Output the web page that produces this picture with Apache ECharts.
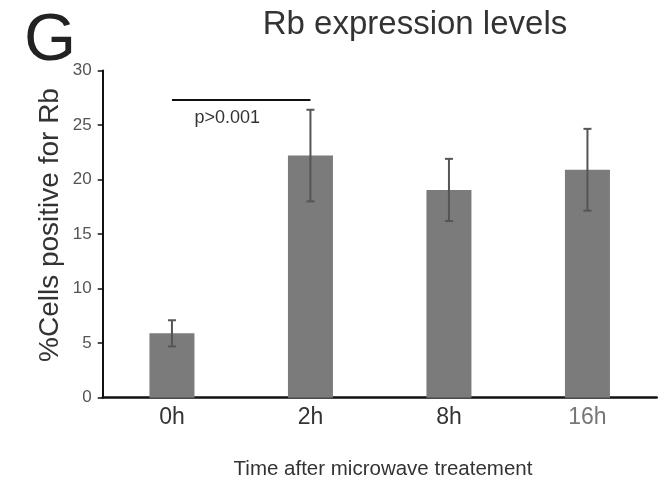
<!DOCTYPE html>
<html>
<head>
<meta charset="utf-8">
<script src="https://cdn.jsdelivr.net/npm/echarts@6/dist/echarts.min.js"></script>
<style>
  html, body { margin: 0; padding: 0; background: #fff; }
  #chart { width: 667px; height: 483px; }
</style>
</head>
<body>
<div id="chart"></div>
<script>
// Rb expression after microwave treatment: mean % positive cells with error bars
const categories = ['0h', '2h', '8h', '16h'];
const means = [5.9, 22.2, 19.05, 20.9];
const errors = [1.2, 4.2, 2.85, 3.75];
const yTicks = [0, 5, 10, 15, 20, 25, 30];
const sigPair = ['0h', '2h'];
const sigLevel = 27.35;
const sigText = 'p>0.001';

const sans = '"Liberation Sans", Arial, Helvetica, sans-serif';

const errData = categories.map((c, i) => [i, means[i] - errors[i], means[i] + errors[i]]);

const chart = echarts.init(document.getElementById('chart'), null, { renderer: 'canvas' });

chart.setOption({
  animation: false,
  backgroundColor: '#fff',
  grid: { left: 102.7, right: 10.3, top: 70.5, bottom: 85.3, containLabel: false },
  xAxis: {
    type: 'category',
    data: categories,
    boundaryGap: true,
    axisLine: { lineStyle: { color: '#111', width: 2.5 } },
    axisTick: { show: false },
    axisLabel: {
      margin: 8,
      fontFamily: sans,
      fontSize: 23,
      color: function (v) { return v === '16h' ? '#777' : '#333'; }
    },
    splitLine: { show: false }
  },
  yAxis: {
    type: 'value',
    min: yTicks[0],
    max: yTicks[yTicks.length - 1],
    interval: yTicks[1] - yTicks[0],
    axisLine: { show: true, lineStyle: { color: '#111', width: 2 } },
    axisTick: { show: true, length: 5, inside: false, lineStyle: { color: '#111', width: 1.5 } },
    axisLabel: { margin: 11, fontFamily: sans, fontSize: 17, color: '#555' },
    splitLine: { show: false }
  },
  series: [
    {
      type: 'bar',
      data: means,
      barWidth: '32.5%',
      itemStyle: { color: '#7b7b7b' },
      markLine: {
        silent: true,
        symbol: 'none',
        lineStyle: { color: '#111', width: 2, type: 'solid' },
        label: { show: false },
        data: [[{ coord: [sigPair[0], sigLevel] }, { coord: [sigPair[1], sigLevel] }]]
      }
    },
    {
      type: 'custom',
      data: errData,
      z: 5,
      renderItem: function (params, api) {
        const x = api.value(0);
        const lo = api.coord([x, api.value(1)]);
        const hi = api.coord([x, api.value(2)]);
        const cap = 4;
        const style = { stroke: '#555', lineWidth: 2 };
        return {
          type: 'group',
          children: [
            { type: 'line', shape: { x1: lo[0], y1: lo[1], x2: hi[0], y2: hi[1] }, style: style },
            { type: 'line', shape: { x1: hi[0] - cap, y1: hi[1], x2: hi[0] + cap, y2: hi[1] }, style: style },
            { type: 'line', shape: { x1: lo[0] - cap, y1: lo[1], x2: lo[0] + cap, y2: lo[1] }, style: style }
          ]
        };
      }
    }
  ]
});

// Significance label sits under the bracket, placed through the axis scale
const pA = chart.convertToPixel({ gridIndex: 0 }, [sigPair[0], sigLevel]);
const pB = chart.convertToPixel({ gridIndex: 0 }, [sigPair[1], sigLevel]);

chart.setOption({
  graphic: [
    {
      type: 'text',
      left: 24, top: 8,
      style: { text: 'G', font: '67px ' + sans, fill: '#222' }
    },
    {
      type: 'text',
      x: 415, y: 25,
      style: { text: 'Rb expression levels', font: '33px ' + sans, fill: '#333', textAlign: 'center', textVerticalAlign: 'middle' }
    },
    {
      type: 'text',
      x: 50, y: 225,
      rotation: Math.PI / 2,
      style: { text: '%Cells positive for Rb', font: '28px ' + sans, fill: '#333', textAlign: 'center', textVerticalAlign: 'middle' }
    },
    {
      type: 'text',
      x: pA[0] + (pB[0] - pA[0]) * 0.4, y: pA[1] + 19,
      style: { text: sigText, font: '18px ' + sans, fill: '#333', textAlign: 'center', textVerticalAlign: 'middle' }
    },
    {
      type: 'text',
      x: 383, y: 469.5,
      style: { text: 'Time after microwave treatement', font: '20.5px ' + sans, fill: '#333', textAlign: 'center', textVerticalAlign: 'middle' }
    }
  ]
});
</script>
</body>
</html>
